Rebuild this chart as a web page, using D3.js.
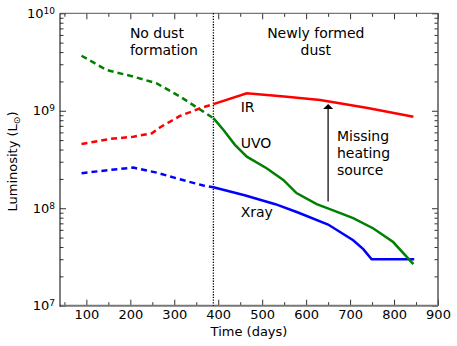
<!DOCTYPE html>
<html>
<head>
<meta charset="utf-8">
<script src="https://cdn.jsdelivr.net/npm/d3@7"></script>
<style>
  body { margin: 0; background: #fff; }
  svg { font-family: "DejaVu Sans", sans-serif; }
  .tick line { stroke: #333; }
  .domain { display: none; }
</style>
</head>
<body>
<script>
var width = 457,
    height = 346;

var margin = {top: 13.3, right: 19, bottom: 40.3, left: 60};

// split between the two phases (day of the dotted line)
var splitDay = 389;

// UVO (green)
var uvoDaysEarly = [89, 146, 207, 260, 313, 366, 389];
var uvoEarly = [3.67e9, 2.62e9, 2.24e9, 1.91e9, 1.40e9, 9.8e8, 8.4e8];
var uvoDaysLate = [389, 412, 438, 465, 510, 548, 578, 624, 654, 707, 753, 798, 844];
var uvoLate = [8.4e8, 6.35e8, 4.47e8, 3.38e8, 2.57e8, 1.95e8, 1.43e8, 1.10e8, 9.8e7, 7.9e7, 6.2e7, 4.5e7, 2.67e7];

// IR (red)
var irDaysEarly = [89, 154, 207, 249, 268, 313, 359, 389];
var irEarly = [4.56e8, 5.14e8, 5.42e8, 5.87e8, 6.78e8, 8.85e8, 1.06e9, 1.17e9];
var irDaysLate = [389, 465, 550, 632, 740, 844];
var irLate = [1.17e9, 1.51e9, 1.40e9, 1.29e9, 1.07e9, 8.7e8];

// Xray (blue)
var xrayDaysEarly = [89, 154, 207, 260, 313, 366, 389];
var xrayEarly = [2.29e8, 2.47e8, 2.61e8, 2.32e8, 1.98e8, 1.71e8, 1.64e8];
var xrayDaysLate = [389, 460, 530, 580, 650, 707, 730, 749, 846];
var xrayLate = [1.64e8, 1.36e8, 1.10e8, 9.1e7, 6.8e7, 4.7e7, 3.8e7, 3.0e7, 3.0e7];

var xTicks = [100, 200, 300, 400, 500, 600, 700, 800, 900];
var xMinorTicks = [50, 150, 250, 350, 450, 550, 650, 750, 850];
var yTicks = [1e7, 1e8, 1e9, 1e10];

// missing heating source arrow
var arrowDay = 650,
    arrowFrom = 1.17e8,
    arrowTo = 1.175e9;

var notes = [
  {lines: ["No dust", "formation"], day: 199, lum: 5.6e9, anchor: "start"},
  {lines: ["Newly formed", "dust"], day: 622, lum: 5.6e9, anchor: "middle"},
  {lines: ["IR"], day: 451, lum: 9.8e8, anchor: "start"},
  {lines: ["UVO"], day: 451, lum: 4.15e8, anchor: "start"},
  {lines: ["Xray"], day: 451, lum: 8.2e7, anchor: "start"},
  {lines: ["Missing", "heating", "source"], day: 670, lum: 4.93e8, anchor: "start"}
];

var x = d3.scaleLinear()
  .domain([40, 900])
  .range([margin.left, width - margin.right]);

var y = d3.scaleLog()
  .domain([1e7, 1e10])
  .range([height - margin.bottom, margin.top]);

var yMinorTicks = [];
[1e7, 1e8, 1e9].forEach(function(p) {
  for (var k = 2; k < 10; k++) yMinorTicks.push(p * k);
});

var svg = d3.select("body").append("svg")
  .attr("width", width)
  .attr("height", height);

var x0 = margin.left, x1 = width - margin.right,
    y0 = margin.top, y1 = height - margin.bottom;

// ticks
svg.append("g")
  .attr("transform", "translate(0," + y1 + ")")
  .call(d3.axisBottom(x).tickValues(xTicks).tickSize(-6).tickPadding(4.5))
  .call(function(g) { g.selectAll("text").attr("font-size", 13).attr("fill", "#000").attr("font-family", "DejaVu Sans"); });
svg.append("g")
  .attr("transform", "translate(0," + y1 + ")")
  .call(d3.axisBottom(x).tickValues(xMinorTicks).tickSize(-3.5).tickFormat(""));
svg.append("g")
  .attr("transform", "translate(0," + y0 + ")")
  .call(d3.axisTop(x).tickValues(xTicks).tickSize(-6).tickFormat(""));
svg.append("g")
  .attr("transform", "translate(0," + y0 + ")")
  .call(d3.axisTop(x).tickValues(xMinorTicks).tickSize(-3.5).tickFormat(""));

svg.append("g")
  .attr("transform", "translate(" + x0 + ",0)")
  .call(d3.axisLeft(y).tickValues(yTicks).tickSize(-6).tickPadding(5).tickFormat(function() { return ""; }))
  .call(function(g) {
    g.selectAll(".tick text").each(function(d) {
      var t = d3.select(this)
        .attr("font-size", 13).attr("fill", "#000").attr("font-family", "DejaVu Sans");
      t.append("tspan").text("10");
      t.append("tspan").attr("dy", "-0.45em").attr("font-size", 9).text(Math.round(Math.log10(d)));
    });
  });
svg.append("g")
  .attr("transform", "translate(" + x0 + ",0)")
  .call(d3.axisLeft(y).tickValues(yMinorTicks).tickSize(-3.5).tickFormat(""));
svg.append("g")
  .attr("transform", "translate(" + x1 + ",0)")
  .call(d3.axisRight(y).tickValues(yTicks).tickSize(-6).tickFormat(""));
svg.append("g")
  .attr("transform", "translate(" + x1 + ",0)")
  .call(d3.axisRight(y).tickValues(yMinorTicks).tickSize(-3.5).tickFormat(""));

// frame
svg.append("line").attr("x1", x0).attr("x2", x1).attr("y1", y0).attr("y2", y0)
  .attr("stroke", "#555").attr("stroke-width", 1);
svg.append("line").attr("x1", x1).attr("x2", x1).attr("y1", y0).attr("y2", y1)
  .attr("stroke", "#555").attr("stroke-width", 1.5);
svg.append("line").attr("x1", x0).attr("x2", x1).attr("y1", y1).attr("y2", y1)
  .attr("stroke", "#777").attr("stroke-width", 2);
svg.append("line").attr("x1", x0).attr("x2", x0).attr("y1", y0).attr("y2", y1 + 1)
  .attr("stroke", "#000").attr("stroke-width", 1);

// dotted divider
svg.append("line")
  .attr("x1", x(splitDay)).attr("x2", x(splitDay))
  .attr("y1", y0).attr("y2", y1)
  .attr("stroke", "#000").attr("stroke-width", 1.3)
  .attr("stroke-dasharray", "1.3,1.4");

var line = d3.line()
  .x(function(d) { return x(d[0]); })
  .y(function(d) { return y(d[1]); });

var series = [
  {days: uvoDaysEarly, vals: uvoEarly, color: "#008000", dashed: true},
  {days: irDaysEarly, vals: irEarly, color: "#ff0000", dashed: true},
  {days: xrayDaysEarly, vals: xrayEarly, color: "#0000ff", dashed: true},
  {days: irDaysLate, vals: irLate, color: "#ff0000", dashed: false},
  {days: xrayDaysLate, vals: xrayLate, color: "#0000ff", dashed: false},
  {days: uvoDaysLate, vals: uvoLate, color: "#008000", dashed: false}
];

svg.append("g")
  .selectAll("path")
  .data(series)
  .enter().append("path")
    .attr("fill", "none")
    .attr("stroke", function(d) { return d.color; })
    .attr("stroke-width", 2.5)
    .attr("stroke-dasharray", function(d) { return d.dashed ? "6,4" : null; })
    .attr("d", function(d) { return line(d.days.map(function(t, i) { return [t, d.vals[i]]; })); });

// arrow
var ax = x(arrowDay);
svg.append("line")
  .attr("x1", ax).attr("x2", ax)
  .attr("y1", y(arrowFrom)).attr("y2", y(arrowTo) + 4)
  .attr("stroke", "#333").attr("stroke-width", 1.5);
svg.append("path")
  .attr("d", "M" + ax + "," + y(arrowTo) + "L" + (ax - 5) + "," + (y(arrowTo) + 5) + "L" + (ax + 5) + "," + (y(arrowTo) + 5) + "Z")
  .attr("fill", "#000");

// annotations
notes.forEach(function(n) {
  var t = svg.append("text")
    .attr("x", x(n.day))
    .attr("y", y(n.lum))
    .attr("text-anchor", n.anchor)
    .attr("font-size", 14);
  n.lines.forEach(function(s, i) {
    t.append("tspan").attr("x", x(n.day)).attr("dy", i === 0 ? 0 : 17).text(s);
  });
});

// axis titles
svg.append("text")
  .attr("x", (x0 + x1) / 2)
  .attr("y", 336)
  .attr("text-anchor", "middle")
  .attr("font-size", 13)
  .text("Time (days)");

var yl = svg.append("text")
  .attr("transform", "translate(17," + ((y0 + y1) / 2 + 2) + ") rotate(-90)")
  .attr("text-anchor", "middle")
  .attr("font-size", 13);
yl.append("tspan").text("Luminosity (L");
yl.append("tspan").attr("font-size", 9).attr("dy", 3).text("\u2299");
yl.append("tspan").attr("dy", -3).text(")");
</script>
</body>
</html>
